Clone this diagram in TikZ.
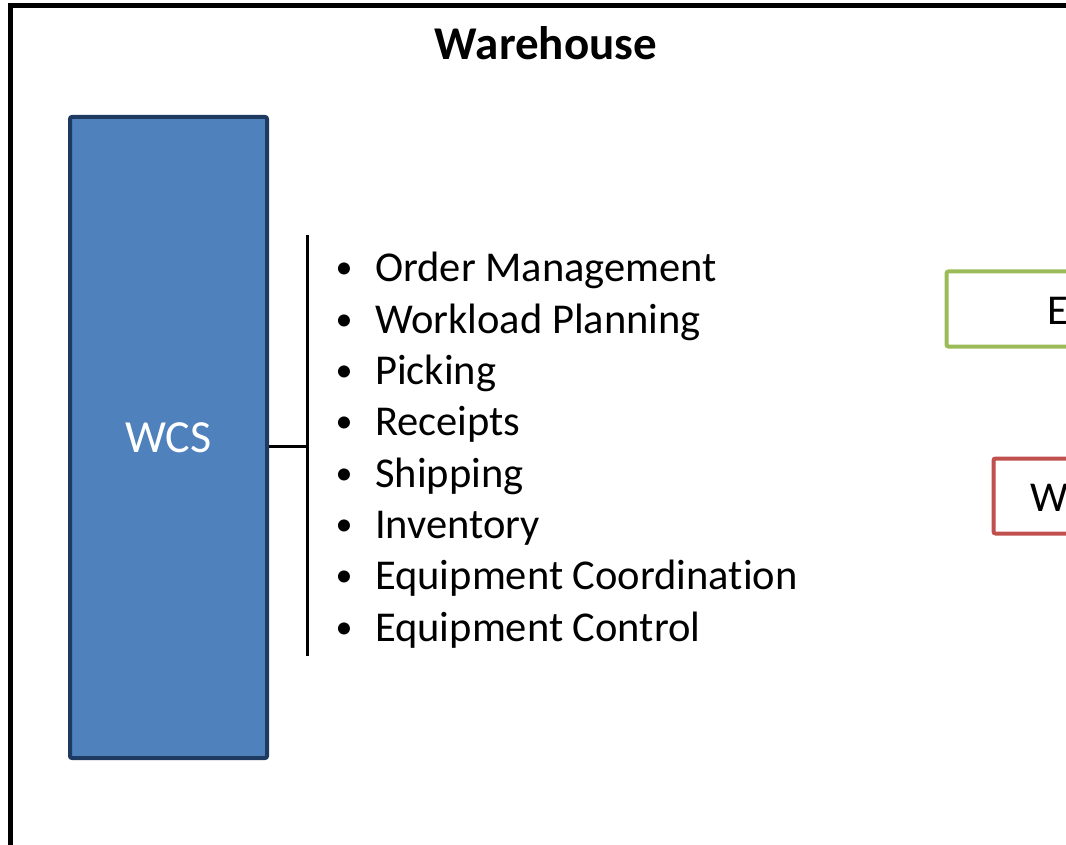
\documentclass[tikz,border=0pt]{standalone}
\usepackage{fontspec}
\setmainfont[Ligatures=NoCommon]{Carlito}
\definecolor{wcsfill}{HTML}{4F81BD}
\definecolor{wcsline}{HTML}{1F3A60}
\definecolor{grn}{HTML}{9BBB59}
\definecolor{red2}{HTML}{C0504D}
\tikzset{
  big/.style={font=\fontsize{42.5}{50}\selectfont},
  item/.style={big, anchor=base west, inner sep=0pt},
  dot/.style={font=\fontsize{34}{40}\selectfont, anchor=base, inner sep=0pt},
  sysbox/.style={line width=4pt, rounded corners=2pt, fill=white},
}
\begin{document}
\begin{tikzpicture}[x=1pt,y=-1pt]
\useasboundingbox (0,0) rectangle (1066,845);
\clip (0,0) rectangle (1066,845);
% frame
\draw[line width=5pt] (10.5,6) rectangle (1200,1000);
\node[font=\bfseries\fontsize{47}{56}\selectfont, anchor=base] (title) at (546,60) {Warehouse};
% WCS
\node[draw=wcsline, fill=wcsfill, line width=4pt, rounded corners=2pt,
      minimum width=197pt, minimum height=641pt, inner sep=0pt,
      text=white, font=\fontsize{46}{54}\selectfont] (wcs) at (168.5,437.5) {WCS};
% bracket
\coordinate (btop) at (307,235);
\coordinate (bbot) at (307,656);
\coordinate (bmid) at (307,446);
\draw[line width=3pt] (btop) -- (bbot);
\draw[line width=3pt] (wcs.east |- bmid) -- (bmid);
% items
\foreach \t [count=\i from 0] in {Order Management, Workload Planning, Picking, Receipts, Shipping, Inventory, Equipment Coordination, Equipment Control}{
  \node[dot] (b\i) at (344,{279+51.3*\i}) {•};
  \node[item] (i\i) at (375,{282+51.3*\i}) {\t};
}
% cropped boxes on the right
\draw[sysbox, draw=grn] (946.5,271.5) rectangle (1200,346.5);
\node[item] (e) at (1047,324) {E};
\draw[sysbox, draw=red2] (993.5,458.5) rectangle (1200,533.5);
\node[item] (w) at (1030,511) {W};
\end{tikzpicture}
\end{document}
